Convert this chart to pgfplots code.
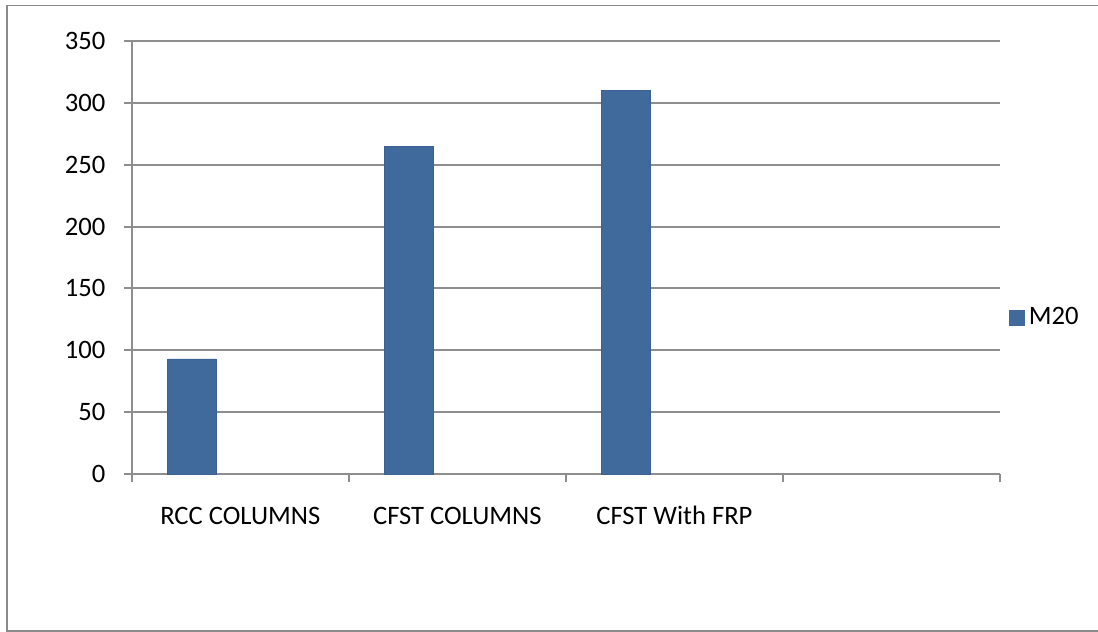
\documentclass[border=0pt]{standalone}
\usepackage{pgfplots}
\pgfplotsset{compat=1.18}
\usepackage{fontspec}
\setmainfont{Carlito}
\definecolor{barblue}{HTML}{40699C}
\definecolor{bardark}{HTML}{3A6192}
\definecolor{gridgray}{HTML}{8E8E8E}
\definecolor{framegray}{HTML}{8A8A8A}
\newcommand\chartfont{\fontsize{13.3}{15}\selectfont}
\begin{document}
\chartfont
\begin{tikzpicture}
\useasboundingbox (0,0) rectangle (549pt,316pt);
% chart area frame
\draw[framegray, line width=0.8pt] (549pt,313.3pt) -- (3.6pt,313.3pt) -- (3.6pt,0.6pt) -- (549pt,0.6pt);
\begin{axis}[
  at={(65.85pt,79pt)}, anchor=south west,
  scale only axis, width=434.2pt, height=216.5pt,
  ybar,
  xmin=-0.5, xmax=3.5,
  ymin=0, ymax=350,
  ytick={0,50,...,350},
  xtick={-0.5,0.5,1.5,2.5,3.5},
  xticklabels={RCC COLUMNS, CFST COLUMNS, CFST With FRP, {}},
  x tick label as interval=true,
  axis x line=bottom, axis y line=left,
  axis line style={-, gridgray, line width=1pt},
  tick align=outside,
  major tick length=4pt,
  tick style={gridgray, line width=1pt},
  ymajorgrids,
  grid style={gridgray, line width=1pt},
  /pgf/number format/assume math mode=true,
  ticklabel style={font=\chartfont, text=black},
  yticklabel style={xshift=-4.5pt},
  xticklabel style={anchor=base, text height=9pt, text depth=2pt, yshift=-21pt},
  bar width=0.2225, bar shift=-0.223,
  legend style={draw=none, fill=none, at={(1.010,0.36)}, anchor=west,
    font=\chartfont, inner sep=0pt,
    legend cell align=left},
  legend image code/.code={\fill[barblue] (0pt,-3.75pt) rectangle (7.5pt,3.75pt);},
  clip=false,
]
\addplot[fill=barblue, draw=bardark, line width=0.4pt] coordinates {(0,93) (1,265) (2,310)};
\addlegendentry{M20}
\end{axis}
\end{tikzpicture}
\end{document}
